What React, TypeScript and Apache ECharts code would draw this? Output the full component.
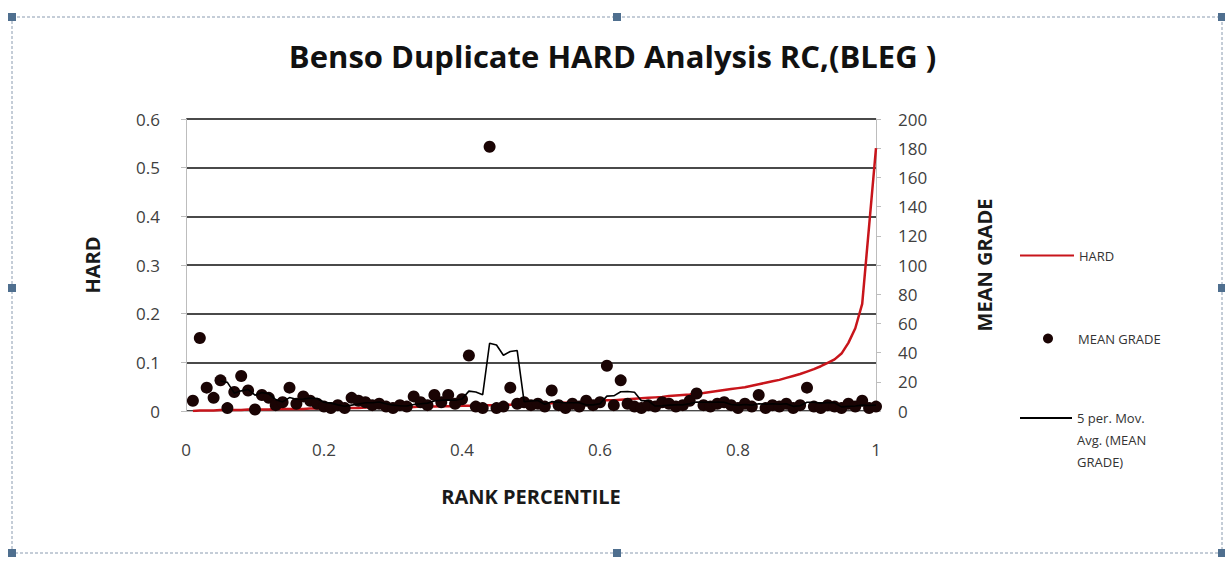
import React, { useEffect, useRef } from "react";
import * as echarts from "echarts";

const TITLE = "Benso Duplicate HARD Analysis RC,(BLEG )";
const X_NAME = "RANK PERCENTILE";
const Y_LEFT_NAME = "HARD";
const Y_RIGHT_NAME = "MEAN GRADE";
const SERIES_NAMES = ["HARD", "MEAN GRADE", "5 per. Mov. Avg. (MEAN GRADE)"];

// HARD values sorted ascending
const hard = [
  0.000, 0.001, 0.001, 0.001, 0.002, 0.002, 0.002, 0.002, 0.003, 0.003,
  0.003, 0.003, 0.004, 0.004, 0.004, 0.004, 0.004, 0.005, 0.005, 0.005,
  0.005, 0.006, 0.006, 0.006, 0.006, 0.007, 0.007, 0.007, 0.007, 0.008,
  0.008, 0.008, 0.008, 0.009, 0.009, 0.009, 0.010, 0.010, 0.010, 0.011,
  0.011, 0.011, 0.012, 0.012, 0.012, 0.013, 0.013, 0.014, 0.014, 0.015,
  0.015, 0.016, 0.016, 0.017, 0.017, 0.018, 0.018, 0.019, 0.020, 0.021,
  0.022, 0.022, 0.023, 0.024, 0.025, 0.026, 0.027, 0.028, 0.029, 0.031,
  0.032, 0.033, 0.034, 0.036, 0.037, 0.039, 0.041, 0.043, 0.045, 0.047,
  0.049, 0.052, 0.055, 0.058, 0.061, 0.064, 0.068, 0.072, 0.076, 0.081,
  0.086, 0.092, 0.099, 0.106, 0.118, 0.140, 0.170, 0.220, 0.380, 0.540,
];

// MEAN GRADE of each duplicate pair, in the same rank order
const meanGrade = [
  7, 50, 16, 9, 21, 2, 13, 24, 14, 1,
  11, 9, 4, 6, 16, 5, 10, 7, 5, 3,
  2, 4, 2, 9, 7, 6, 4, 5, 3, 2,
  4, 3, 10, 6, 4, 11, 6, 11, 5, 8,
  38, 3, 2, 181, 2, 3, 16, 5, 6, 4,
  5, 3, 14, 4, 2, 5, 3, 7, 4, 6,
  31, 4, 21, 5, 3, 2, 4, 3, 6, 5,
  3, 4, 7, 12, 4, 3, 5, 6, 4, 2,
  5, 3, 11, 2, 4, 3, 5, 2, 4, 16,
  3, 2, 4, 3, 2, 5, 3, 7, 2, 3,
];

const xTicks = { min: 0, max: 1, interval: 0.2 };
const leftTicks = { min: 0, max: 0.6, interval: 0.1 };
const rightTicks = { min: 0, max: 200, interval: 20 };
const MA_PERIOD = 5;

export default function App() {
  const ref = useRef<HTMLDivElement>(null);

  useEffect(() => {
    if (!ref.current) return;
    const chart = echarts.init(ref.current, null, { renderer: "svg" });
    const n = hard.length;
    const rank = hard.map((_, i) => Number(((i + 1) / n).toFixed(4)));
    const hardData = rank.map((x, i) => [x, hard[i]]);
    const gradeData = rank.map((x, i) => [x, meanGrade[i]]);
    const maData: number[][] = [];
    for (let i = MA_PERIOD - 1; i < n; i++) {
      let s = 0;
      for (let k = i - MA_PERIOD + 1; k <= i; k++) s += meanGrade[k];
      maData.push([rank[i], s / MA_PERIOD]);
    }
    const font = "'Open Sans', 'DejaVu Sans', sans-serif";
    const labelStyle = { color: "#404040", fontSize: 17, fontFamily: font };
    const nameStyle = { color: "#1a1a1a", fontSize: 20, fontWeight: "bold" as const, fontFamily: font };
    const legendText = { color: "#333333", fontSize: 13, fontFamily: font };
    const lineIcon = "rect";

    const handles = [
      [12, 17], [617, 17], [1222, 17],
      [12, 288], [1222, 288],
      [12, 553], [617, 553], [1222, 553],
    ];

    chart.setOption({
      animation: false,
      backgroundColor: "#ffffff",
      title: {
        text: TITLE,
        left: "center",
        top: 35,
        textStyle: { color: "#111", fontSize: 31, fontWeight: "bold", fontFamily: font },
      },
      grid: { left: 186, right: 349, top: 119, bottom: 150, containLabel: false },
      legend: [
        {
          data: [{ name: SERIES_NAMES[0], icon: lineIcon }],
          left: 1020, top: 249, padding: 0, orient: "vertical",
          itemWidth: 54, itemHeight: 2,
          textStyle: { ...legendText },
        },
        {
          data: [{ name: SERIES_NAMES[1], icon: "circle" }],
          left: 1043, top: 332, padding: 0, orient: "vertical",
          itemWidth: 10, itemHeight: 10,
          textStyle: { ...legendText, padding: [0, 0, 0, 20] },
        },
        {
          data: [{ name: SERIES_NAMES[2], icon: lineIcon }],
          left: 1020, top: 363, padding: 0, orient: "vertical",
          itemWidth: 52, itemHeight: 2,
          formatter: () => " \n \n5 per. Mov.\nAvg. (MEAN\nGRADE)",
          textStyle: { ...legendText, lineHeight: 22 },
        },
      ],
      xAxis: {
        type: "value",
        ...xTicks,
        name: X_NAME,
        nameLocation: "middle",
        nameGap: 75,
        nameTextStyle: nameStyle,
        axisLine: { show: true, lineStyle: { color: "#bdbdbd", width: 1 } },
        axisTick: { show: false },
        axisLabel: { ...labelStyle, margin: 30 },
        splitLine: { show: false },
      },
      yAxis: [
        {
          type: "value",
          ...leftTicks,
          position: "left",
          name: Y_LEFT_NAME,
          nameLocation: "middle",
          nameRotate: 90,
          nameGap: 84,
          nameTextStyle: nameStyle,
          axisLine: { show: true, lineStyle: { color: "#bdbdbd", width: 1 } },
          axisTick: { show: true, length: 5, lineStyle: { color: "#bdbdbd" } },
          axisLabel: { ...labelStyle, margin: 26 },
          splitLine: { show: true, lineStyle: { color: "#4a4a4a", width: 2 } },
        },
        {
          type: "value",
          ...rightTicks,
          position: "right",
          name: Y_RIGHT_NAME,
          nameLocation: "middle",
          nameRotate: 90,
          nameGap: 98,
          nameTextStyle: nameStyle,
          axisLine: { show: true, lineStyle: { color: "#bdbdbd", width: 1 } },
          axisTick: { show: true, length: 5, lineStyle: { color: "#bdbdbd" } },
          axisLabel: { ...labelStyle, margin: 22 },
          splitLine: { show: false },
        },
      ],
      series: [
        {
          name: SERIES_NAMES[0],
          type: "line",
          xAxisIndex: 0,
          yAxisIndex: 0,
          data: hardData,
          symbol: "none",
          lineStyle: { color: "#c8151b", width: 2.5 },
          itemStyle: { color: "#c8151b" },
          z: 2,
        },
        {
          name: SERIES_NAMES[1],
          type: "scatter",
          xAxisIndex: 0,
          yAxisIndex: 1,
          data: gradeData,
          symbol: "circle",
          symbolSize: 12,
          itemStyle: { color: "#1a0404", opacity: 1 },
          z: 3,
        },
        {
          name: SERIES_NAMES[2],
          type: "line",
          xAxisIndex: 0,
          yAxisIndex: 1,
          data: maData,
          symbol: "none",
          lineStyle: { color: "#000", width: 1.6 },
          itemStyle: { color: "#000" },
          z: 4,
        },
      ],
      graphic: [
        {
          type: "rect",
          shape: { x: 12, y: 17, width: 1210, height: 536 },
          style: { fill: "none", stroke: "#8a9bb0", lineWidth: 1, lineDash: [3, 2] },
          silent: true,
        },
        ...handles.map(([x, y]) => ({
          type: "rect",
          shape: { x: x - 4, y: y - 4, width: 8, height: 8 },
          style: { fill: "#4f6f8f" },
          silent: true,
        })),
      ],
    });
    return () => chart.dispose();
  }, []);

  return (
    <div
      ref={ref}
      style={{ position: "fixed", left: 0, top: 0, width: "1225px", height: "561px", background: "#fff" }}
    />
  );
}
